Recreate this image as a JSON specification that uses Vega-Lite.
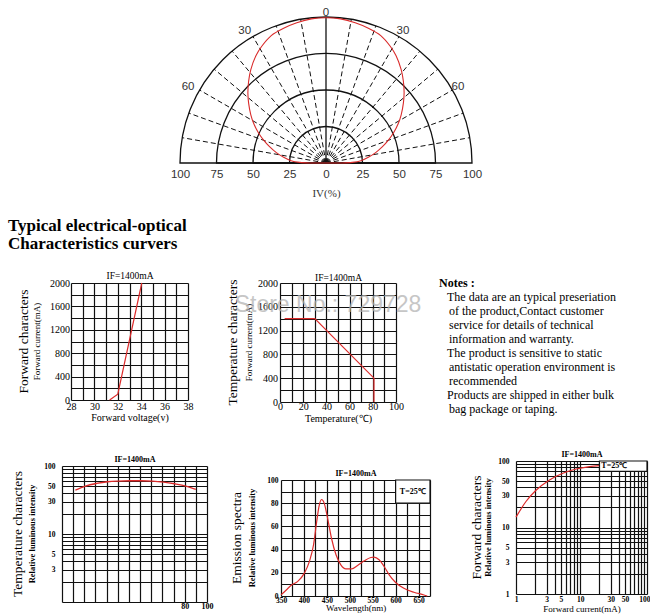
{
 "$schema": "https://vega.github.io/schema/vega-lite/v6.json",
 "padding": 0,
 "background": "white",
 "spacing": 0,
 "bounds": "flush",
 "config": {
  "view": {"stroke": null},
  "axis": {"gridColor": "#111", "gridOpacity": 1, "gridWidth": 1.2, "domain": false, "ticks": false, "labelColor": "#000", "labelFont": "Liberation Serif", "titleFont": "Liberation Serif", "titleFontWeight": "normal", "titleColor": "#000", "labelOverlap": false, "labelFlush": false},
  "title": {"font": "Liberation Serif", "fontWeight": "normal", "color": "#000", "subtitleColor": "#000", "subtitleFont": "Liberation Serif", "anchor": "middle"},
  "text": {"font": "Liberation Serif", "color": "#000"}
 },
 "vconcat": [
  {
   "spacing": 0, "bounds": "flush",
   "hconcat": [
    {"width": 177, "height": 1, "data": {"values": [{"s": 0}]}, "mark": {"type": "point", "opacity": 0}},
    {
     "width": 292, "height": 160,
     "encoding": {
      "x": {"field": "px", "type": "quantitative", "scale": {"domain": [-100, 100], "nice": false, "zero": false},
            "axis": {"values": [-100, -75, -50, -25, 0, 25, 50, 75, 100], "labelExpr": "abs(datum.value)", "grid": false, "title": "IV(%)", "labelFont": "Liberation Sans", "labelFontSize": 11.5, "labelColor": "#333", "labelPadding": 5, "titleFontSize": 11, "titlePadding": 8, "titleColor": "#333"}},
      "y": {"field": "py", "type": "quantitative", "scale": {"domain": [0, 109.6], "nice": false}, "axis": null}
     },
     "layer": [
      {
       "data": {"values": [{"r": 25, "px": 0, "py": 0}, {"r": 50, "px": 0, "py": 0}, {"r": 75, "px": 0, "py": 0}, {"r": 100, "px": 0, "py": 0}]},
       "mark": {"type": "arc", "filled": false, "stroke": "#111", "strokeWidth": 1.3, "theta": -1.5708, "theta2": 1.5708},
       "encoding": {
        "radius": {"field": "r", "type": "quantitative", "stack": null, "scale": {"type": "linear", "domain": [0, 100], "range": [0, 146], "zero": true}}
       }
      },
      {
       "data": {"values": [
        {"px": 0, "py": 0, "px2": -98.48, "py2": 17.36}, {"px": 0, "py": 0, "px2": -93.97, "py2": 34.2}, {"px": 0, "py": 0, "px2": -86.6, "py2": 50}, {"px": 0, "py": 0, "px2": -76.6, "py2": 64.28},
        {"px": 0, "py": 0, "px2": -64.28, "py2": 76.6}, {"px": 0, "py": 0, "px2": -50, "py2": 86.6}, {"px": 0, "py": 0, "px2": -34.2, "py2": 93.97}, {"px": 0, "py": 0, "px2": -17.36, "py2": 98.48},
        {"px": 0, "py": 0, "px2": 17.36, "py2": 98.48}, {"px": 0, "py": 0, "px2": 34.2, "py2": 93.97}, {"px": 0, "py": 0, "px2": 50, "py2": 86.6}, {"px": 0, "py": 0, "px2": 64.28, "py2": 76.6},
        {"px": 0, "py": 0, "px2": 76.6, "py2": 64.28}, {"px": 0, "py": 0, "px2": 86.6, "py2": 50}, {"px": 0, "py": 0, "px2": 93.97, "py2": 34.2}, {"px": 0, "py": 0, "px2": 98.48, "py2": 17.36}
       ]},
       "mark": {"type": "rule", "stroke": "#111", "strokeWidth": 1, "strokeDash": [5, 3]},
       "encoding": {"x2": {"field": "px2"}, "y2": {"field": "py2"}}
      },
      {
       "data": {"values": [{"px": 0, "py": 0, "px2": 0, "py2": 100}]},
       "mark": {"type": "rule", "stroke": "#111", "strokeWidth": 1.3},
       "encoding": {"x2": {"field": "px2"}, "y2": {"field": "py2"}}
      },
      {
       "data": {"values": [
        {"i": 0, "px": 0, "py": 0}, {"i": 1, "px": -10, "py": 0}, {"i": 2, "px": -18, "py": 0.4}, {"i": 3, "px": -24, "py": 1.6},
        {"i": 4, "px": -29, "py": 3.9}, {"i": 5, "px": -34, "py": 7.1}, {"i": 6, "px": -38.5, "py": 11}, {"i": 7, "px": -43, "py": 16},
        {"i": 8, "px": -46.5, "py": 21}, {"i": 9, "px": -49.5, "py": 27}, {"i": 10, "px": -51.5, "py": 33}, {"i": 11, "px": -53, "py": 41},
        {"i": 12, "px": -53.5, "py": 48}, {"i": 13, "px": -53, "py": 56}, {"i": 14, "px": -51.5, "py": 64}, {"i": 15, "px": -48, "py": 73.5},
        {"i": 16, "px": -44, "py": 80}, {"i": 17, "px": -37.5, "py": 87.3}, {"i": 18, "px": -29, "py": 92.3}, {"i": 19, "px": -20, "py": 96},
        {"i": 20, "px": -10, "py": 98.7}, {"i": 21, "px": 0, "py": 99.5}, {"i": 22, "px": 10, "py": 98.7}, {"i": 23, "px": 20, "py": 96},
        {"i": 24, "px": 29, "py": 92.3}, {"i": 25, "px": 37.5, "py": 87.3}, {"i": 26, "px": 44, "py": 80}, {"i": 27, "px": 48, "py": 73.5},
        {"i": 28, "px": 51.5, "py": 64}, {"i": 29, "px": 53, "py": 56}, {"i": 30, "px": 53.5, "py": 48}, {"i": 31, "px": 53, "py": 41},
        {"i": 32, "px": 51.5, "py": 33}, {"i": 33, "px": 49.5, "py": 27}, {"i": 34, "px": 46.5, "py": 21}, {"i": 35, "px": 43, "py": 16},
        {"i": 36, "px": 38.5, "py": 11}, {"i": 37, "px": 34, "py": 7.1}, {"i": 38, "px": 29, "py": 3.9}, {"i": 39, "px": 24, "py": 1.6},
        {"i": 40, "px": 18, "py": 0.4}, {"i": 41, "px": 10, "py": 0}, {"i": 42, "px": 0, "py": 0}
       ]},
       "mark": {"type": "line", "color": "#d92b2b", "strokeWidth": 1.1, "interpolate": "catmull-rom"},
       "encoding": {"order": {"field": "i", "type": "quantitative"}}
      },
      {
       "data": {"values": [
        {"lab": "0", "px": 0, "py": 102.7}, {"lab": "30", "px": -55.7, "py": 90.2}, {"lab": "30", "px": 52.7, "py": 90.2},
        {"lab": "60", "px": -94.5, "py": 52}, {"lab": "60", "px": 90.4, "py": 52}
       ]},
       "mark": {"type": "text", "font": "Liberation Sans", "fontSize": 11.5, "color": "#333", "baseline": "middle"},
       "encoding": {"text": {"field": "lab", "type": "nominal"}}
      }
     ]
    }
   ]
  },
  {"width": 1, "height": 160, "data": {"values": [{"s": 0}]}, "mark": {"type": "point", "opacity": 0}},
  {
   "width": 10, "height": 120,
   "data": {"values": [{"line": 1, "t": "Typical electrical-optical"}, {"line": 2, "t": "Characteristics curvers"}]},
   "mark": {"type": "text", "align": "left", "baseline": "alphabetic", "fontSize": 17, "fontWeight": "bold"},
   "encoding": {
    "y": {"field": "line", "type": "quantitative", "scale": {"domain": [-2.778, 3.889], "nice": false, "zero": false, "reverse": true}, "axis": null},
    "text": {"field": "t", "type": "nominal"}
   }
  },
  {
   "spacing": 0, "bounds": "flush",
   "hconcat": [
    {"width": 68, "height": 1, "data": {"values": [{"s": 0}]}, "mark": {"type": "point", "opacity": 0}},
    {
     "width": 117, "height": 117,
     "title": {"text": "Forward characters", "subtitle": "Forward current(mA)", "orient": "left", "fontSize": 13.5, "subtitleFontSize": 9, "offset": 8, "subtitlePadding": 2},
     "data": {"values": [{"k": 0, "v": 31.3, "ma": 0}, {"k": 1, "v": 32, "ma": 100}, {"k": 2, "v": 34.05, "ma": 2000}]},
     "encoding": {
      "x": {"field": "v", "type": "quantitative", "scale": {"domain": [28, 38], "nice": false, "zero": false},
            "axis": {"values": [28, 29, 30, 31, 32, 33, 34, 35, 36, 37, 38], "labelExpr": "datum.value % 2 == 0 ? datum.label : ''", "format": "d", "grid": true, "title": "Forward voltage(v)", "labelFontSize": 10, "titleFontSize": 10, "labelPadding": 1, "titlePadding": 1}},
      "y": {"field": "ma", "type": "quantitative", "scale": {"domain": [0, 2000], "nice": false},
            "axis": {"values": [0, 200, 400, 600, 800, 1000, 1200, 1400, 1600, 1800, 2000], "labelExpr": "datum.value % 400 == 0 ? datum.label : ''", "format": "d", "grid": true, "title": null, "labelFontSize": 10, "labelPadding": 1.5}}
     },
     "layer": [
      {
       "mark": {"type": "line", "color": "#dd2b2b", "strokeWidth": 1.2},
       "encoding": {"order": {"field": "k", "type": "quantitative"}}
      },
      {
       "mark": {"type": "point", "opacity": 0},
       "encoding": {
        "x": {"field": "v", "type": "quantitative",
              "axis": {"orient": "top", "labels": false, "grid": false, "title": "IF=1400mA", "titleFontSize": 9.5, "titlePadding": 3}}
       }
      }
     ],
     "resolve": {"axis": {"x": "independent"}}
    },
    {"width": 92, "height": 1, "data": {"values": [{"s": 0}]}, "mark": {"type": "point", "opacity": 0}},
    {
     "width": 116, "height": 119,
     "title": {"text": "Temperature characters", "subtitle": "Forward current(mA)", "orient": "left", "fontSize": 13.5, "subtitleFontSize": 9, "offset": 4, "subtitlePadding": 5},
     "data": {"values": [{"k": 0, "tc": 4, "ma": 1400}, {"k": 1, "tc": 30, "ma": 1400}, {"k": 2, "tc": 81, "ma": 400}, {"k": 3, "tc": 81, "ma": 0}]},
     "encoding": {
      "x": {"field": "tc", "type": "quantitative", "scale": {"domain": [0, 100], "nice": false, "zero": false},
            "axis": {"values": [0, 10, 20, 30, 40, 50, 60, 70, 80, 90, 100], "labelExpr": "datum.value % 20 == 0 ? datum.label : ''", "format": "d", "grid": true, "title": "Temperature(℃)", "labelFontSize": 10, "titleFontSize": 10, "labelPadding": -1, "titlePadding": 2}},
      "y": {"field": "ma", "type": "quantitative", "scale": {"domain": [0, 2000], "nice": false},
            "axis": {"values": [0, 200, 400, 600, 800, 1000, 1200, 1400, 1600, 1800, 2000], "labelExpr": "datum.value % 400 == 0 ? datum.label : ''", "format": "d", "grid": true, "title": null, "labelFontSize": 10, "labelPadding": 2.5}}
     },
     "layer": [
      {
       "mark": {"type": "line", "color": "#dd2b2b", "strokeWidth": 1.2},
       "encoding": {"order": {"field": "k", "type": "quantitative"}}
      },
      {
       "mark": {"type": "point", "opacity": 0},
       "encoding": {
        "x": {"field": "tc", "type": "quantitative",
              "axis": {"orient": "top", "labels": false, "grid": false, "title": "IF=1400mA", "titleFontSize": 9.5, "titlePadding": 1}}
       }
      }
     ],
     "resolve": {"axis": {"x": "independent"}}
    },
    {"width": 42, "height": 1, "data": {"values": [{"s": 0}]}, "mark": {"type": "point", "opacity": 0}},
    {
     "width": 2, "height": 126,
     "encoding": {
      "y": {"field": "line", "type": "quantitative", "scale": {"domain": [1, 10], "nice": false, "zero": false, "reverse": true}, "axis": null},
      "text": {"field": "t", "type": "nominal"}
     },
     "layer": [
      {
       "data": {"values": [{"line": 1, "t": "Notes :"}]},
       "mark": {"type": "text", "align": "left", "baseline": "middle", "fontSize": 12, "fontWeight": "bold"}
      },
      {
       "data": {"values": [
        {"line": 2, "t": "The data are an typical preseriation"},
        {"line": 6, "t": "The product is sensitive to static"},
        {"line": 9, "t": "Products are shipped in either bulk"}
       ]},
       "mark": {"type": "text", "align": "left", "baseline": "middle", "fontSize": 12, "dx": 8}
      },
      {
       "data": {"values": [
        {"line": 3, "t": "of the product,Contact customer"},
        {"line": 4, "t": "service for details of technical"},
        {"line": 5, "t": "information and warranty."},
        {"line": 7, "t": "antistatic operation environment is"},
        {"line": 8, "t": "recommended"},
        {"line": 10, "t": "bag package or taping."}
       ]},
       "mark": {"type": "text", "align": "left", "baseline": "middle", "fontSize": 12, "dx": 10}
      }
     ]
    }
   ]
  },
  {
   "spacing": 0, "bounds": "flush",
   "hconcat": [
    {"width": 305, "height": 1, "data": {"values": [{"s": 0}]}, "mark": {"type": "point", "opacity": 0}},
    {
     "width": 40, "height": 44,
     "data": {"values": [{"wm": "Store No.: 729728"}]},
     "mark": {"type": "text", "font": "Liberation Sans", "fontSize": 23, "color": "#b4b4b4", "opacity": 0.75, "baseline": "middle", "align": "center"},
     "encoding": {"text": {"field": "wm", "type": "nominal"}}
    }
   ]
  },
  {"width": 1, "height": 178, "data": {"values": [{"s": 0}]}, "mark": {"type": "point", "opacity": 0}},
  {
   "spacing": 0, "bounds": "flush",
   "hconcat": [
    {"width": 513, "height": 1, "data": {"values": [{"s": 0}]}, "mark": {"type": "point", "opacity": 0}},
    {
     "width": 131, "height": 133,
     "title": {"text": "Forward characters", "subtitle": "Relative luminous intensity", "orient": "left", "fontSize": 13.5, "subtitleFontSize": 8.5, "subtitleFontWeight": "bold", "offset": 5, "subtitlePadding": 1},
     "data": {"values": [
      {"ma": 1, "rel": 14.3}, {"ma": 1.43, "rel": 24.6}, {"ma": 2.05, "rel": 36.3}, {"ma": 3.33, "rel": 51.9},
      {"ma": 5.37, "rel": 65.4}, {"ma": 8.66, "rel": 75.9}, {"ma": 14, "rel": 82.4}, {"ma": 20, "rel": 85.3}
     ]},
     "encoding": {
      "x": {"field": "ma", "type": "quantitative", "scale": {"type": "log", "domain": [1, 110], "nice": false},
            "axis": {"values": [1, 2, 3, 4, 5, 6, 7, 8, 9, 10, 20, 30, 40, 50, 60, 70, 80, 90, 100, 110], "labelExpr": "indexof([1, 3, 5, 10, 30, 50, 100], datum.value) >= 0 ? datum.label : ''", "format": "d", "grid": true, "title": "Forward current(mA)", "labelFontSize": 7.5, "labelFontWeight": "bold", "labelPadding": 1, "titleFontSize": 9, "titlePadding": 2}},
      "y": {"field": "rel", "type": "quantitative", "scale": {"type": "log", "domain": [1, 100], "nice": false},
            "axis": {"values": [1, 2, 3, 4, 5, 6, 7, 8, 9, 10, 20, 30, 40, 50, 60, 70, 80, 90, 100], "labelExpr": "indexof([1, 3, 5, 10, 30, 50, 100], datum.value) >= 0 ? datum.label : ''", "format": "d", "grid": true, "title": null, "labelFontSize": 7.5, "labelFontWeight": "bold", "labelPadding": 7}}
     },
     "layer": [
      {
       "mark": {"type": "line", "color": "#dd2b2b", "strokeWidth": 1.2, "interpolate": "monotone"}
      },
      {
       "mark": {"type": "point", "opacity": 0},
       "encoding": {
        "x": {"field": "ma", "type": "quantitative",
              "axis": {"orient": "top", "labels": false, "grid": false, "title": "IF=1400mA", "titleFontSize": 8, "titleFontWeight": "bold", "titlePadding": 3}}
       }
      },
      {
       "data": {"values": [{"ma": 20, "ma2": 110, "rel": 70, "rel2": 100}]},
       "mark": {"type": "rect", "fill": "white", "stroke": "#111", "strokeWidth": 1.2},
       "encoding": {
        "x": {"field": "ma", "type": "quantitative", "axis": null}, "x2": {"field": "ma2"},
        "y2": {"field": "rel2"}
       }
      },
      {
       "data": {"values": [{"ma": 34, "rel": 83.7, "tt": "T=25℃"}]},
       "mark": {"type": "text", "fontSize": 8, "fontWeight": "bold", "baseline": "middle"},
       "encoding": {
        "x": {"field": "ma", "type": "quantitative", "axis": null},
        "text": {"field": "tt", "type": "nominal"}
       }
      }
     ],
     "resolve": {"axis": {"x": "independent"}}
    }
   ]
  },
  {"width": 1, "height": 5, "data": {"values": [{"s": 0}]}, "mark": {"type": "point", "opacity": 0}},
  {
   "spacing": 0, "bounds": "flush",
   "hconcat": [
    {"width": 59, "height": 1, "data": {"values": [{"s": 0}]}, "mark": {"type": "point", "opacity": 0}},
    {
     "width": 145, "height": 136,
     "title": {"text": "Temperature characters", "subtitle": "Relative luminous intensity", "orient": "left", "fontSize": 13.5, "subtitleFontSize": 8.5, "subtitleFontWeight": "bold", "offset": 7, "subtitlePadding": 4},
     "data": {"values": [
      {"t": -18, "r": 44.3}, {"t": -9, "r": 50.7}, {"t": 1, "r": 55.4}, {"t": 11, "r": 58.7}, {"t": 21, "r": 60.1}, {"t": 31, "r": 60.7},
      {"t": 41, "r": 60.7}, {"t": 51, "r": 60.1}, {"t": 61, "r": 58.1}, {"t": 71, "r": 54.8}, {"t": 81, "r": 50.7}, {"t": 90, "r": 45.2}
     ]},
     "encoding": {
      "x": {"field": "t", "type": "quantitative", "scale": {"domain": [-30, 100], "nice": false, "zero": false},
            "axis": {"values": [-30, -20, -10, 0, 10, 20, 30, 40, 50, 60, 70, 80, 90, 100], "labelExpr": "datum.value == 80 || datum.value == 100 ? datum.label : ''", "format": "d", "grid": true, "title": null, "labelFontSize": 8, "labelFontWeight": "bold", "labelPadding": 0}},
      "y": {"field": "r", "type": "quantitative", "scale": {"type": "log", "domain": [1, 100], "nice": false},
            "axis": {"values": [1, 2, 3, 4, 5, 6, 7, 8, 9, 10, 20, 30, 40, 50, 60, 70, 80, 90, 100], "labelExpr": "indexof([3, 5, 10, 30, 50, 100], datum.value) >= 0 ? datum.label : ''", "format": "d", "grid": true, "title": null, "labelFontSize": 7.5, "labelFontWeight": "bold", "labelPadding": 7}}
     },
     "layer": [
      {
       "mark": {"type": "line", "color": "#dd2b2b", "strokeWidth": 1.3, "interpolate": "monotone"}
      },
      {
       "mark": {"type": "point", "opacity": 0},
       "encoding": {
        "x": {"field": "t", "type": "quantitative",
              "axis": {"orient": "top", "labels": false, "grid": false, "title": "IF=1400mA", "titleFontSize": 8, "titleFontWeight": "bold", "titlePadding": 3}}
       }
      }
     ],
     "resolve": {"axis": {"x": "independent"}}
    }
   ]
  },
  {"width": 1, "height": 14, "data": {"values": [{"s": 0}]}, "mark": {"type": "point", "opacity": 0}},
  {
   "spacing": 0, "bounds": "flush",
   "hconcat": [
    {"width": 278, "height": 1, "data": {"values": [{"s": 0}]}, "mark": {"type": "point", "opacity": 0}},
    {
     "width": 149, "height": 116,
     "title": {"text": "Emission spectra", "subtitle": "Relative luminous intensity", "orient": "left", "fontSize": 13.5, "subtitleFontSize": 8.5, "subtitleFontWeight": "bold", "offset": 10.5, "subtitlePadding": 4},
     "data": {"values": [
      {"w": 350, "e": 1}, {"w": 361, "e": 5}, {"w": 373, "e": 9.5}, {"w": 386, "e": 12.4}, {"w": 401, "e": 19.7}, {"w": 412, "e": 29.8},
      {"w": 421, "e": 44.2}, {"w": 428, "e": 64.5}, {"w": 433, "e": 77.5}, {"w": 438.5, "e": 83.2}, {"w": 444, "e": 80.3}, {"w": 451.5, "e": 67.3},
      {"w": 460, "e": 50}, {"w": 470, "e": 35.5}, {"w": 480.5, "e": 26.9}, {"w": 491.5, "e": 23.4}, {"w": 504, "e": 23.4}, {"w": 517, "e": 26.3},
      {"w": 531.5, "e": 30.3}, {"w": 546, "e": 33.2}, {"w": 553, "e": 33.5}, {"w": 564, "e": 31.2}, {"w": 575, "e": 25.4}, {"w": 586, "e": 18.2},
      {"w": 600, "e": 11.6}, {"w": 618, "e": 6.6}, {"w": 640, "e": 3.2}, {"w": 662, "e": 0.9}, {"w": 669, "e": 0}
     ]},
     "encoding": {
      "x": {"field": "w", "type": "quantitative", "scale": {"domain": [350, 675], "nice": false, "zero": false},
            "axis": {"values": [350, 375, 400, 425, 450, 475, 500, 525, 550, 575, 600, 625, 650, 675], "labelExpr": "datum.value % 50 == 0 && datum.value <= 650 ? datum.label : ''", "format": "d", "grid": true, "title": "Wavelength(nm)", "labelFontSize": 7.5, "labelFontWeight": "bold", "labelPadding": 0, "titleFontSize": 9, "titlePadding": 0}},
      "y": {"field": "e", "type": "quantitative", "scale": {"domain": [0, 100], "nice": false},
            "axis": {"values": [0, 10, 20, 30, 40, 50, 60, 70, 80, 90, 100], "labelExpr": "datum.value % 20 == 0 ? datum.label : ''", "format": "d", "grid": true, "title": null, "labelFontSize": 7.5, "labelFontWeight": "bold", "labelPadding": 3}}
     },
     "layer": [
      {
       "mark": {"type": "line", "color": "#dd2b2b", "strokeWidth": 1.2, "interpolate": "monotone"}
      },
      {
       "mark": {"type": "point", "opacity": 0},
       "encoding": {
        "x": {"field": "w", "type": "quantitative",
              "axis": {"orient": "top", "labels": false, "grid": false, "title": "IF=1400mA", "titleFontSize": 8, "titleFontWeight": "bold", "titlePadding": 3}}
       }
      },
      {
       "data": {"values": [{"w": 600, "w2": 675, "e": 80, "e2": 100}]},
       "mark": {"type": "rect", "fill": "white", "stroke": "#111", "strokeWidth": 1.2},
       "encoding": {
        "x": {"field": "w", "type": "quantitative", "axis": null}, "x2": {"field": "w2"},
        "y2": {"field": "e2"}
       }
      },
      {
       "data": {"values": [{"w": 637.5, "e": 90, "tt": "T=25℃"}]},
       "mark": {"type": "text", "fontSize": 8, "fontWeight": "bold", "baseline": "middle"},
       "encoding": {
        "x": {"field": "w", "type": "quantitative", "axis": null},
        "text": {"field": "tt", "type": "nominal"}
       }
      }
     ],
     "resolve": {"axis": {"x": "independent"}}
    }
   ]
  }
 ]
}
